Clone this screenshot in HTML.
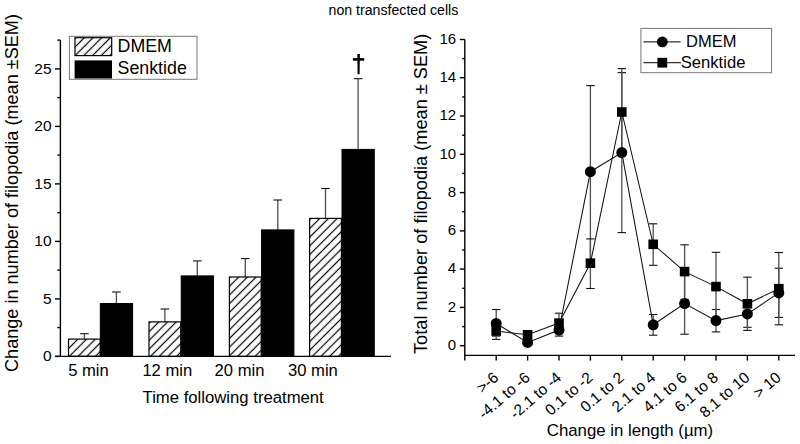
<!DOCTYPE html>
<html><head><meta charset="utf-8"><style>
html,body{margin:0;padding:0;background:#fff;}
svg{display:block;font-family:"Liberation Sans",sans-serif;}
.ax{stroke:#000;stroke-width:1.4;fill:none;}
.eb{stroke:#111;stroke-width:1.1;fill:none;}
.ebv{stroke:#555;stroke-width:1.35;fill:none;}
text{fill:#000;}
</style></head><body>
<svg width="800" height="444" viewBox="0 0 800 444">
<defs>
<pattern id="h0" patternUnits="userSpaceOnUse" width="6.15" height="6.15" patternTransform="translate(64.85,339.15) rotate(45)"><rect x="2.475" y="-1" width="1.2" height="8.15" fill="#000"/></pattern>
<pattern id="h1" patternUnits="userSpaceOnUse" width="6.15" height="6.15" patternTransform="translate(145.85,321.90) rotate(45)"><rect x="2.475" y="-1" width="1.2" height="8.15" fill="#000"/></pattern>
<pattern id="h2" patternUnits="userSpaceOnUse" width="6.15" height="6.15" patternTransform="translate(225.65,277.05) rotate(45)"><rect x="2.475" y="-1" width="1.2" height="8.15" fill="#000"/></pattern>
<pattern id="h3" patternUnits="userSpaceOnUse" width="6.15" height="6.15" patternTransform="translate(306.75,218.40) rotate(45)"><rect x="2.475" y="-1" width="1.2" height="8.15" fill="#000"/></pattern>
<pattern id="hl" patternUnits="userSpaceOnUse" width="6.15" height="6.15" patternTransform="translate(71.25,37.70) rotate(45)"><rect x="2.475" y="-1" width="1.2" height="8.15" fill="#000"/></pattern>
</defs>
<rect width="800" height="444" fill="#fff"/>
<line x1="84.4" y1="339.1" x2="84.4" y2="333.7" class="ebv"/>
<line x1="80.1" y1="333.7" x2="88.7" y2="333.7" class="eb"/>
<line x1="116.4" y1="303.5" x2="116.4" y2="292.0" class="ebv"/>
<line x1="112.1" y1="292.0" x2="120.7" y2="292.0" class="eb"/>
<rect x="68.5" y="339.1" width="31.8" height="17.2" fill="url(#h0)" stroke="#000" stroke-width="1.2"/>
<rect x="100.3" y="303.5" width="32.3" height="52.9" fill="#000" stroke="#000" stroke-width="1"/>
<line x1="164.9" y1="321.9" x2="164.9" y2="309.0" class="ebv"/>
<line x1="160.6" y1="309.0" x2="169.2" y2="309.0" class="eb"/>
<line x1="197.3" y1="275.9" x2="197.3" y2="260.9" class="ebv"/>
<line x1="193.0" y1="260.9" x2="201.7" y2="260.9" class="eb"/>
<rect x="149.0" y="321.9" width="31.8" height="34.5" fill="url(#h1)" stroke="#000" stroke-width="1.2"/>
<rect x="181.2" y="275.9" width="32.3" height="80.5" fill="#000" stroke="#000" stroke-width="1"/>
<line x1="245.3" y1="277.0" x2="245.3" y2="258.6" class="ebv"/>
<line x1="241.0" y1="258.6" x2="249.6" y2="258.6" class="eb"/>
<line x1="277.8" y1="229.9" x2="277.8" y2="200.0" class="ebv"/>
<line x1="273.4" y1="200.0" x2="282.1" y2="200.0" class="eb"/>
<rect x="229.4" y="277.0" width="31.8" height="79.4" fill="url(#h2)" stroke="#000" stroke-width="1.2"/>
<rect x="261.6" y="229.9" width="32.3" height="126.5" fill="#000" stroke="#000" stroke-width="1"/>
<line x1="325.5" y1="218.4" x2="325.5" y2="188.5" class="ebv"/>
<line x1="321.2" y1="188.5" x2="329.8" y2="188.5" class="eb"/>
<line x1="358.1" y1="149.4" x2="358.1" y2="78.7" class="ebv"/>
<line x1="353.8" y1="78.7" x2="362.4" y2="78.7" class="eb"/>
<rect x="309.6" y="218.4" width="31.8" height="138.0" fill="url(#h3)" stroke="#000" stroke-width="1.2"/>
<rect x="342.0" y="149.4" width="32.3" height="207.0" fill="#000" stroke="#000" stroke-width="1"/>
<line x1="60.4" y1="40" x2="60.4" y2="356.4" class="ax"/>
<line x1="55" y1="356.4" x2="391" y2="356.4" class="ax"/>
<line x1="55" y1="356.4" x2="60.4" y2="356.4" class="ax"/>
<text x="51.6" y="361.0" text-anchor="end" font-size="15.5">0</text>
<line x1="55" y1="298.9" x2="60.4" y2="298.9" class="ax"/>
<text x="51.6" y="303.5" text-anchor="end" font-size="15.5">5</text>
<line x1="55" y1="241.4" x2="60.4" y2="241.4" class="ax"/>
<text x="51.6" y="246.0" text-anchor="end" font-size="15.5">10</text>
<line x1="55" y1="183.9" x2="60.4" y2="183.9" class="ax"/>
<text x="51.6" y="188.5" text-anchor="end" font-size="15.5">15</text>
<line x1="55" y1="126.4" x2="60.4" y2="126.4" class="ax"/>
<text x="51.6" y="131.0" text-anchor="end" font-size="15.5">20</text>
<line x1="55" y1="68.9" x2="60.4" y2="68.9" class="ax"/>
<text x="51.6" y="73.5" text-anchor="end" font-size="15.5">25</text>
<line x1="57.3" y1="327.6" x2="60.4" y2="327.6" class="ax"/>
<line x1="57.3" y1="270.1" x2="60.4" y2="270.1" class="ax"/>
<line x1="57.3" y1="212.6" x2="60.4" y2="212.6" class="ax"/>
<line x1="57.3" y1="155.1" x2="60.4" y2="155.1" class="ax"/>
<line x1="57.3" y1="97.6" x2="60.4" y2="97.6" class="ax"/>
<line x1="57.3" y1="40.1" x2="60.4" y2="40.1" class="ax"/>
<text x="68.2" y="376.4" font-size="16.6">5 min</text>
<text x="142.4" y="376.4" font-size="16.6">12 min</text>
<text x="214.6" y="376.4" font-size="16.6">20 min</text>
<text x="288.0" y="376.4" font-size="16.6">30 min</text>
<text x="142.6" y="402.6" font-size="16.7">Time following treatment</text>
<text transform="translate(17.8,372) rotate(-90)" font-size="18.1">Change in number of filopodia (mean ±SEM)</text>
<path d="M357.3 54 L359.9 54 L359.6 74.2 L357.6 74.2 Z" fill="#000"/>
<path d="M352.9 59.4 L364.2 59.4" stroke="#000" stroke-width="2.6"/>
<rect x="69.4" y="36.3" width="127.6" height="43" fill="#fff" stroke="#777" stroke-width="1"/>
<rect x="75" y="37.7" width="36.7" height="17.9" fill="url(#hl)" stroke="#000" stroke-width="1.2"/>
<rect x="74.6" y="60.4" width="37.4" height="18.1" fill="#000"/>
<text x="117.6" y="52.4" font-size="17.8">DMEM</text>
<text x="117.6" y="73.9" font-size="17.8">Senktide</text>
<text x="328.6" y="15" font-size="14.15">non transfected cells</text>
<line x1="464.8" y1="39.5" x2="464.8" y2="360.6" class="ax"/>
<line x1="464.8" y1="355.4" x2="795" y2="355.4" class="ax"/>
<line x1="459.8" y1="345.7" x2="464.8" y2="345.7" class="ax"/>
<text x="456.2" y="350.0" text-anchor="end" font-size="15">0</text>
<line x1="462.2" y1="326.6" x2="464.8" y2="326.6" class="ax"/>
<line x1="459.8" y1="307.4" x2="464.8" y2="307.4" class="ax"/>
<text x="456.2" y="311.7" text-anchor="end" font-size="15">2</text>
<line x1="462.2" y1="288.3" x2="464.8" y2="288.3" class="ax"/>
<line x1="459.8" y1="269.1" x2="464.8" y2="269.1" class="ax"/>
<text x="456.2" y="273.4" text-anchor="end" font-size="15">4</text>
<line x1="462.2" y1="250.0" x2="464.8" y2="250.0" class="ax"/>
<line x1="459.8" y1="230.9" x2="464.8" y2="230.9" class="ax"/>
<text x="456.2" y="235.2" text-anchor="end" font-size="15">6</text>
<line x1="462.2" y1="211.7" x2="464.8" y2="211.7" class="ax"/>
<line x1="459.8" y1="192.6" x2="464.8" y2="192.6" class="ax"/>
<text x="456.2" y="196.9" text-anchor="end" font-size="15">8</text>
<line x1="462.2" y1="173.4" x2="464.8" y2="173.4" class="ax"/>
<line x1="459.8" y1="154.3" x2="464.8" y2="154.3" class="ax"/>
<text x="456.2" y="158.6" text-anchor="end" font-size="15">10</text>
<line x1="462.2" y1="135.2" x2="464.8" y2="135.2" class="ax"/>
<line x1="459.8" y1="116.0" x2="464.8" y2="116.0" class="ax"/>
<text x="456.2" y="120.3" text-anchor="end" font-size="15">12</text>
<line x1="462.2" y1="96.9" x2="464.8" y2="96.9" class="ax"/>
<line x1="459.8" y1="77.7" x2="464.8" y2="77.7" class="ax"/>
<text x="456.2" y="82.0" text-anchor="end" font-size="15">14</text>
<line x1="462.2" y1="58.6" x2="464.8" y2="58.6" class="ax"/>
<line x1="459.8" y1="39.5" x2="464.8" y2="39.5" class="ax"/>
<text x="456.2" y="43.8" text-anchor="end" font-size="15">16</text>
<line x1="496.2" y1="355.4" x2="496.2" y2="360.6" class="ax"/>
<line x1="527.6" y1="355.4" x2="527.6" y2="360.6" class="ax"/>
<line x1="559.0" y1="355.4" x2="559.0" y2="360.6" class="ax"/>
<line x1="590.4" y1="355.4" x2="590.4" y2="360.6" class="ax"/>
<line x1="621.8" y1="355.4" x2="621.8" y2="360.6" class="ax"/>
<line x1="653.2" y1="355.4" x2="653.2" y2="360.6" class="ax"/>
<line x1="684.6" y1="355.4" x2="684.6" y2="360.6" class="ax"/>
<line x1="716.0" y1="355.4" x2="716.0" y2="360.6" class="ax"/>
<line x1="747.4" y1="355.4" x2="747.4" y2="360.6" class="ax"/>
<line x1="778.8" y1="355.4" x2="778.8" y2="360.6" class="ax"/>
<text transform="translate(499.5,379.0) rotate(-41)" text-anchor="end" font-size="15.5">>-6</text>
<text transform="translate(530.9,379.0) rotate(-41)" text-anchor="end" font-size="15.5">-4.1 to -6</text>
<text transform="translate(562.3,379.0) rotate(-41)" text-anchor="end" font-size="15.5">-2.1 to -4</text>
<text transform="translate(593.7,379.0) rotate(-41)" text-anchor="end" font-size="15.5">0.1 to -2</text>
<text transform="translate(625.1,379.0) rotate(-41)" text-anchor="end" font-size="15.5">0.1 to 2</text>
<text transform="translate(656.5,379.0) rotate(-41)" text-anchor="end" font-size="15.5">2.1 to 4</text>
<text transform="translate(687.9,379.0) rotate(-41)" text-anchor="end" font-size="15.5">4.1 to 6</text>
<text transform="translate(719.3,379.0) rotate(-41)" text-anchor="end" font-size="15.5">6.1 to 8</text>
<text transform="translate(750.7,379.0) rotate(-41)" text-anchor="end" font-size="15.5">8.1 to 10</text>
<text transform="translate(782.1,379.0) rotate(-41)" text-anchor="end" font-size="15.5">> 10</text>
<text x="546.8" y="436" font-size="16.8">Change in length (µm)</text>
<text transform="translate(427.1,354) rotate(-90)" font-size="18.2">Total number of filopodia (mean ± SEM)</text>
<line x1="496.2" y1="309.5" x2="496.2" y2="336.1" class="ebv"/>
<line x1="492.0" y1="309.5" x2="500.4" y2="309.5" class="eb"/>
<line x1="492.0" y1="336.1" x2="500.4" y2="336.1" class="eb"/>
<line x1="527.6" y1="340.0" x2="527.6" y2="343.8" class="ebv"/>
<line x1="523.4" y1="340.0" x2="531.8" y2="340.0" class="eb"/>
<line x1="523.4" y1="343.8" x2="531.8" y2="343.8" class="eb"/>
<line x1="559.0" y1="326.6" x2="559.0" y2="336.1" class="ebv"/>
<line x1="554.8" y1="326.6" x2="563.2" y2="326.6" class="eb"/>
<line x1="554.8" y1="336.1" x2="563.2" y2="336.1" class="eb"/>
<line x1="590.4" y1="85.6" x2="590.4" y2="261.5" class="ebv"/>
<line x1="586.2" y1="85.6" x2="594.6" y2="85.6" class="eb"/>
<line x1="586.2" y1="261.5" x2="594.6" y2="261.5" class="eb"/>
<line x1="621.8" y1="72.6" x2="621.8" y2="232.6" class="ebv"/>
<line x1="617.6" y1="72.6" x2="626.0" y2="72.6" class="eb"/>
<line x1="617.6" y1="232.6" x2="626.0" y2="232.6" class="eb"/>
<line x1="653.2" y1="314.5" x2="653.2" y2="335.2" class="ebv"/>
<line x1="649.0" y1="314.5" x2="657.4" y2="314.5" class="eb"/>
<line x1="649.0" y1="335.2" x2="657.4" y2="335.2" class="eb"/>
<line x1="684.6" y1="273.0" x2="684.6" y2="334.2" class="ebv"/>
<line x1="680.4" y1="273.0" x2="688.8" y2="273.0" class="eb"/>
<line x1="680.4" y1="334.2" x2="688.8" y2="334.2" class="eb"/>
<line x1="716.0" y1="309.5" x2="716.0" y2="331.9" class="ebv"/>
<line x1="711.8" y1="309.5" x2="720.2" y2="309.5" class="eb"/>
<line x1="711.8" y1="331.9" x2="720.2" y2="331.9" class="eb"/>
<line x1="747.4" y1="301.7" x2="747.4" y2="327.3" class="ebv"/>
<line x1="743.2" y1="301.7" x2="751.6" y2="301.7" class="eb"/>
<line x1="743.2" y1="327.3" x2="751.6" y2="327.3" class="eb"/>
<line x1="778.8" y1="268.2" x2="778.8" y2="317.4" class="ebv"/>
<line x1="774.6" y1="268.2" x2="783.0" y2="268.2" class="eb"/>
<line x1="774.6" y1="317.4" x2="783.0" y2="317.4" class="eb"/>
<line x1="496.2" y1="326.6" x2="496.2" y2="339.4" class="ebv"/>
<line x1="492.0" y1="326.6" x2="500.4" y2="326.6" class="eb"/>
<line x1="492.0" y1="339.4" x2="500.4" y2="339.4" class="eb"/>
<line x1="527.6" y1="332.3" x2="527.6" y2="337.1" class="ebv"/>
<line x1="523.4" y1="332.3" x2="531.8" y2="332.3" class="eb"/>
<line x1="523.4" y1="337.1" x2="531.8" y2="337.1" class="eb"/>
<line x1="559.0" y1="313.2" x2="559.0" y2="326.6" class="ebv"/>
<line x1="554.8" y1="313.2" x2="563.2" y2="313.2" class="eb"/>
<line x1="554.8" y1="326.6" x2="563.2" y2="326.6" class="eb"/>
<line x1="590.4" y1="238.9" x2="590.4" y2="288.5" class="ebv"/>
<line x1="586.2" y1="238.9" x2="594.6" y2="238.9" class="eb"/>
<line x1="586.2" y1="288.5" x2="594.6" y2="288.5" class="eb"/>
<line x1="621.8" y1="68.6" x2="621.8" y2="155.4" class="ebv"/>
<line x1="617.6" y1="68.6" x2="626.0" y2="68.6" class="eb"/>
<line x1="617.6" y1="155.4" x2="626.0" y2="155.4" class="eb"/>
<line x1="653.2" y1="223.8" x2="653.2" y2="265.3" class="ebv"/>
<line x1="649.0" y1="223.8" x2="657.4" y2="223.8" class="eb"/>
<line x1="649.0" y1="265.3" x2="657.4" y2="265.3" class="eb"/>
<line x1="684.6" y1="244.8" x2="684.6" y2="299.4" class="ebv"/>
<line x1="680.4" y1="244.8" x2="688.8" y2="244.8" class="eb"/>
<line x1="680.4" y1="299.4" x2="688.8" y2="299.4" class="eb"/>
<line x1="716.0" y1="252.3" x2="716.0" y2="320.8" class="ebv"/>
<line x1="711.8" y1="252.3" x2="720.2" y2="252.3" class="eb"/>
<line x1="711.8" y1="320.8" x2="720.2" y2="320.8" class="eb"/>
<line x1="747.4" y1="277.2" x2="747.4" y2="330.4" class="ebv"/>
<line x1="743.2" y1="277.2" x2="751.6" y2="277.2" class="eb"/>
<line x1="743.2" y1="330.4" x2="751.6" y2="330.4" class="eb"/>
<line x1="778.8" y1="252.5" x2="778.8" y2="324.8" class="ebv"/>
<line x1="774.6" y1="252.5" x2="783.0" y2="252.5" class="eb"/>
<line x1="774.6" y1="324.8" x2="783.0" y2="324.8" class="eb"/>
<polyline points="496.2,323.5 527.6,342.4 559.0,330.0 590.4,171.7 621.8,152.6 653.2,324.8 684.6,303.6 716.0,320.6 747.4,313.9 778.8,292.9" fill="none" stroke="#111" stroke-width="1.05"/>
<polyline points="496.2,331.0 527.6,334.8 559.0,323.1 590.4,263.2 621.8,112.0 653.2,244.3 684.6,271.6 716.0,286.6 747.4,303.8 778.8,288.7" fill="none" stroke="#111" stroke-width="1.05"/>
<circle cx="496.2" cy="323.5" r="5.5" fill="#000"/>
<circle cx="527.6" cy="342.4" r="5.5" fill="#000"/>
<circle cx="559.0" cy="330.0" r="5.5" fill="#000"/>
<circle cx="590.4" cy="171.7" r="5.5" fill="#000"/>
<circle cx="621.8" cy="152.6" r="5.5" fill="#000"/>
<circle cx="653.2" cy="324.8" r="5.5" fill="#000"/>
<circle cx="684.6" cy="303.6" r="5.5" fill="#000"/>
<circle cx="716.0" cy="320.6" r="5.5" fill="#000"/>
<circle cx="747.4" cy="313.9" r="5.5" fill="#000"/>
<circle cx="778.8" cy="292.9" r="5.5" fill="#000"/>
<rect x="491.4" y="326.2" width="9.6" height="9.6" fill="#000"/>
<rect x="522.8" y="330.0" width="9.6" height="9.6" fill="#000"/>
<rect x="554.2" y="318.3" width="9.6" height="9.6" fill="#000"/>
<rect x="585.6" y="258.4" width="9.6" height="9.6" fill="#000"/>
<rect x="617.0" y="107.2" width="9.6" height="9.6" fill="#000"/>
<rect x="648.4" y="239.5" width="9.6" height="9.6" fill="#000"/>
<rect x="679.8" y="266.8" width="9.6" height="9.6" fill="#000"/>
<rect x="711.2" y="281.8" width="9.6" height="9.6" fill="#000"/>
<rect x="742.6" y="299.0" width="9.6" height="9.6" fill="#000"/>
<rect x="774.0" y="283.9" width="9.6" height="9.6" fill="#000"/>
<rect x="640.9" y="28.4" width="130.7" height="44.3" fill="#fff" stroke="#777" stroke-width="1"/>
<line x1="643.4" y1="41.9" x2="680.6" y2="41.9" stroke="#333" stroke-width="1.1"/>
<circle cx="662.3" cy="41.9" r="5.4" fill="#000"/>
<text x="686" y="47.2" font-size="16.5">DMEM</text>
<line x1="643.4" y1="62.6" x2="681" y2="62.6" stroke="#333" stroke-width="1.1"/>
<rect x="657.4" y="57.8" width="9.8" height="9.8" fill="#000"/>
<text x="680.8" y="67.8" font-size="16.6">Senktide</text>
</svg>
</body></html>
